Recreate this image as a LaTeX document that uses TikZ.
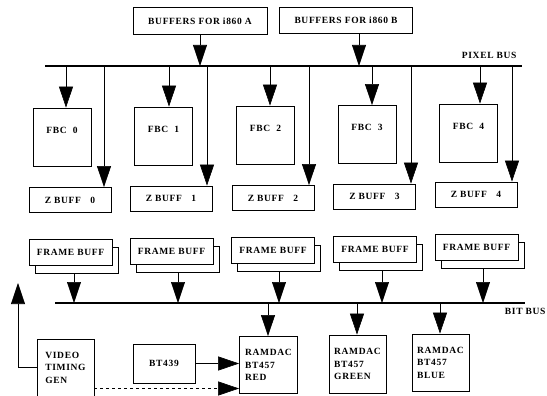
\documentclass[tikz,border=0pt]{standalone}
\usepackage{fontspec}
\setmainfont{Liberation Serif}[LetterSpace=7]
\usetikzlibrary{arrows.meta,shadows}

\begin{document}
\begin{tikzpicture}[x=1pt, y=-1pt, font=\bfseries\fontsize{9.5}{12.5}\selectfont,
  box/.style={draw, line width=0.8pt, inner sep=2pt},
  fbuff/.style={box, fill=white, minimum width=83pt, minimum height=26pt,
    copy shadow={shadow xshift=6pt, shadow yshift=-8pt, draw=black, fill=white, line width=0.8pt}},
  tip/.style={-{Triangle[length=21pt, width=14pt]}, line width=0.6pt},
  bus/.style={line width=1.1pt}]
  \useasboundingbox (0,0) rectangle (547,396);
  % coordinates are pixels of the scan, y grows downwards
  \node[box, minimum width=134pt, minimum height=27pt] (bufa) at (200,21) {BUFFERS FOR i860 A};
  \node[box, minimum width=133pt, minimum height=26pt] (bufb) at (346,20) {BUFFERS FOR i860 B};
  \coordinate (pl) at (45,66); \coordinate (pr) at (522,66);
  \draw[bus] (pl) -- (pr);
  \node[anchor=south east] (pixlbl) at (520,62) {PIXEL BUS};
  \coordinate (pa) at (200,66); \coordinate (pb) at (359,66);
  \draw[tip] (bufa.south) -- (pa);
  \draw[tip] (bufb.south -| pb) -- (pb);

  % frame buffer controllers
  \node[box, minimum width=58pt, minimum height=58pt, text depth=14pt] (fbc0) at (62,137) {FBC\ \ 0};
  \node[box, minimum width=58pt, minimum height=58pt, text depth=14pt] (fbc1) at (163.5,136) {FBC\ \ 1};
  \node[box, minimum width=58pt, minimum height=58pt, text depth=14pt] (fbc2) at (265.5,135) {FBC\ \ 2};
  \node[box, minimum width=58pt, minimum height=58pt, text depth=14pt] (fbc3) at (367,134.5) {FBC\ \ 3};
  \node[box, minimum width=58pt, minimum height=58pt, text depth=14pt] (fbc4) at (468.5,133) {FBC\ \ 4};
  \coordinate (f0) at (66,66); \coordinate (f1) at (169,66); \coordinate (f2) at (270,66);
  \coordinate (f3) at (372,66); \coordinate (f4) at (480,66);
  \draw[tip] (f0) -- (f0 |- fbc0.north);
  \draw[tip] (f1) -- (f1 |- fbc1.north);
  \draw[tip] (f2) -- (f2 |- fbc2.north);
  \draw[tip] (f3) -- (f3 |- fbc3.north);
  \draw[tip] (f4) -- (f4 |- fbc4.north);

  % z buffers
  \node[box, minimum width=82pt, minimum height=25pt] (zb0) at (70,200) {Z BUFF\quad 0};
  \node[box, minimum width=82pt, minimum height=25pt] (zb1) at (171,198.5) {Z BUFF\quad 1};
  \node[box, minimum width=82pt, minimum height=25pt] (zb2) at (273,198) {Z BUFF\quad 2};
  \node[box, minimum width=82pt, minimum height=25pt] (zb3) at (374.5,196.5) {Z BUFF\quad 3};
  \node[box, minimum width=82pt, minimum height=25pt] (zb4) at (476,194.5) {Z BUFF\quad 4};
  \coordinate (z0) at (104,66); \coordinate (z1) at (207,66); \coordinate (z2) at (309,66);
  \coordinate (z3) at (411,66); \coordinate (z4) at (512,66);
  \draw[tip] (z0) -- (z0 |- zb0.north);
  \draw[tip] (z1) -- (z1 |- zb1.north);
  \draw[tip] (z2) -- (z2 |- zb2.north);
  \draw[tip] (z3) -- (z3 |- zb3.north);
  \draw[tip] (z4) -- (z4 |- zb4.north);

  % frame buffers and bit bus
  \node[fbuff] (fb0) at (70.5,252) {FRAME BUFF};
  \node[fbuff] (fb1) at (171.5,251) {FRAME BUFF};
  \node[fbuff] (fb2) at (273,250) {FRAME BUFF};
  \node[fbuff] (fb3) at (375,249) {FRAME BUFF};
  \node[fbuff] (fb4) at (476.5,247) {FRAME BUFF};
  \coordinate (bl) at (55,303); \coordinate (br) at (525,303);
  \draw[bus] (bl) -- (br);
  \node[anchor=north east] (bitlbl) at (549,305) {BIT BUS};
  \coordinate (b0) at (74,303); \coordinate (b1) at (178,303); \coordinate (b2) at (279,303);
  \coordinate (b3) at (382,303); \coordinate (b4) at (483,303);
  \draw[tip, shorten <=8pt] (fb0.south -| b0) -- (b0);
  \draw[tip, shorten <=8pt] (fb1.south -| b1) -- (b1);
  \draw[tip, shorten <=8pt] (fb2.south -| b2) -- (b2);
  \draw[tip, shorten <=8pt] (fb3.south -| b3) -- (b3);
  \draw[tip, shorten <=8pt] (fb4.south -| b4) -- (b4);

  % video output
  \node[box, minimum width=58pt, minimum height=57pt, align=left] (red) at (268.5,365) {RAMDAC\\BT457\\RED};
  \node[box, minimum width=57pt, minimum height=58pt, align=left] (green) at (357.5,364) {RAMDAC\\BT457\\GREEN};
  \node[box, minimum width=57pt, minimum height=57pt, align=left] (blue) at (440.5,362.5) {RAMDAC\\BT457\\BLUE};
  \coordinate (r0) at (268,303); \coordinate (r1) at (357,303); \coordinate (r2) at (440,303);
  \draw[tip] (r0) -- (r0 |- red.north);
  \draw[tip] (r1) -- (r1 |- green.north);
  \draw[tip] (r2) -- (r2 |- blue.north);
  \node[box, minimum width=62pt, minimum height=39pt] (bt) at (164,363.5) {BT439};
  \node[box, minimum width=57pt, minimum height=57pt, align=left] (vtg) at (65.5,367.5) {VIDEO\\TIMING\\GEN};
  \draw[tip] (bt.east) -- (bt.east -| red.west);
  \draw[tip, dashed] ([yshift=-21pt]vtg.east) coordinate (vt) -- (vt -| red.west);
  \coordinate (up) at (18,283);
  \draw[tip] (vtg.west) -| (up);
\end{tikzpicture}
\end{document}
